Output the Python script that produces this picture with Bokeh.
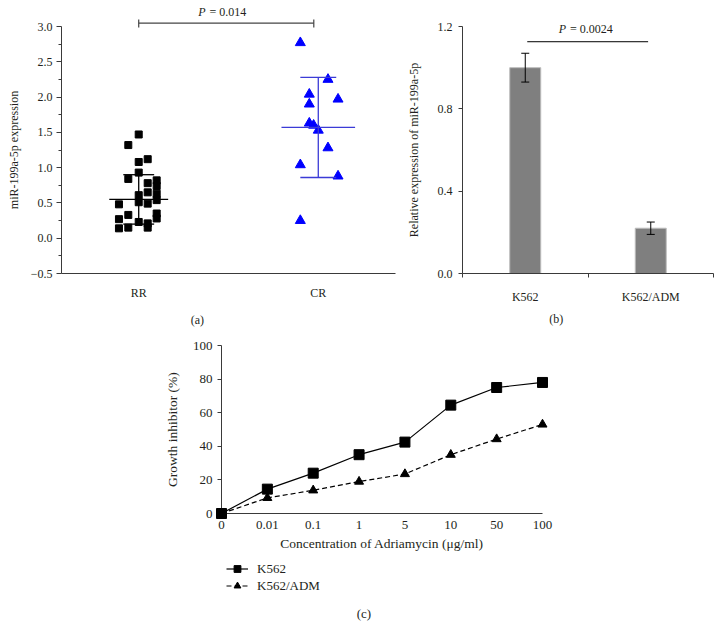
from bokeh.plotting import figure
from bokeh.layouts import column, row
from bokeh.models import (Range1d, FixedTicker, PrintfTickFormatter, Whisker, TeeHead,
                          ColumnDataSource, Legend, LegendItem)
from bokeh.embed import file_html
from bokeh.resources import INLINE
from bokeh.core.properties import value

FONT = "Liberation Serif"
TXT = "#231f20"
AX = "#3a3a3a"

# ---------------- data: panel (a) ----------------
groups = ["RR", "CR"]
rr_values = [0.48, 0.27, 0.14,
             1.32, 0.84, 0.33, 0.15,
             1.47, 1.08, 0.93, 0.61, 0.51, 0.23,
             1.12, 0.78, 0.65, 0.49, 0.21, 0.15,
             0.82, 0.74, 0.63, 0.54, 0.35, 0.28]
rr_jitter = [-0.11, -0.11, -0.11,
             -0.058, -0.058, -0.058, -0.058,
             0.0, 0.0, 0.0, 0.0, 0.0, 0.0,
             0.05, 0.05, 0.05, 0.05, 0.05, 0.05,
             0.1, 0.1, 0.1, 0.1, 0.1, 0.1]
cr_values = [2.77, 2.25, 2.04, 1.97, 1.90, 1.63, 1.60, 1.53, 1.28, 1.04, 0.88, 0.25]
cr_jitter = [-0.10, 0.054, -0.05, 0.11, -0.05, -0.05, -0.026, 0.0, 0.054, -0.10, 0.11, -0.10]
group_mean = [0.55, 1.57]
group_sd = [0.35, 0.71]
a_yticks = [-0.5, 0.0, 0.5, 1.0, 1.5, 2.0, 2.5, 3.0]
a_yminor = [-0.25, 0.25, 0.75, 1.25, 1.75, 2.25, 2.75]
p_a = "0.014"

# ---------------- data: panel (b) ----------------
cells = ["K562", "K562/ADM"]
rel_expr = [1.00, 0.22]
rel_err = [0.07, 0.03]
b_yticks = [0.0, 0.4, 0.8, 1.2]
p_b = "0.0024"

# ---------------- data: panel (c) ----------------
conc_labels = ["0", "0.01", "0.1", "1", "5", "10", "50", "100"]
series_names = ["K562", "K562/ADM"]
k562_inh = [0, 14.5, 24, 35, 42.5, 64.5, 75, 78]
adm_inh = [0, 9.3, 13.8, 19, 23.5, 35, 44.3, 53]
c_yticks = [0, 20, 40, 60, 80, 100]


def style(p, tick_size="12px", label_size="12px"):
    p.xgrid.visible = False
    p.ygrid.visible = False
    p.outline_line_color = None
    p.background_fill_color = "white"
    p.border_fill_color = "white"
    for ax in p.axis:
        ax.axis_line_color = AX
        ax.major_tick_line_color = AX
        ax.minor_tick_line_color = AX
        ax.major_tick_in = 0
        ax.minor_tick_in = 0
        ax.major_label_text_font = FONT
        ax.major_label_text_font_size = tick_size
        ax.major_label_text_color = TXT
        ax.axis_label_text_font = FONT
        ax.axis_label_text_font_size = label_size
        ax.axis_label_text_font_style = "normal"
        ax.axis_label_text_color = TXT


def panel_label(p, txt, x, y, size="12px"):
    p.text(x=[x], y=[y], text=[txt], text_font=value(FONT), text_font_size=size,
           text_color=TXT, text_align="center", text_baseline="middle", level="overlay")


# ================= panel (a) =================
pa = figure(width=403, height=330, output_backend="svg", toolbar_location=None,
            x_range=Range1d(-0.43, 1.43), y_range=Range1d(-0.5, 3.0),
            min_border_left=61, min_border_right=8, min_border_top=26, min_border_bottom=57)
style(pa)
pa.xaxis.ticker = FixedTicker(ticks=[0, 1])
pa.xaxis.major_label_overrides = {0: groups[0], 1: groups[1]}
pa.xaxis.major_tick_out = 0
pa.xaxis.minor_tick_out = 0
pa.xaxis.major_label_standoff = 12
pa.yaxis.ticker = FixedTicker(ticks=a_yticks, minor_ticks=a_yminor)
pa.yaxis.formatter = PrintfTickFormatter(format="%.1f")
pa.yaxis.major_label_overrides = {-0.5: "\u22120.5"}
pa.yaxis.major_tick_out = 5
pa.yaxis.minor_tick_out = 3
pa.yaxis.major_label_standoff = 4
pa.yaxis.axis_label = "miR-199a-5p expression"
pa.yaxis.axis_label_standoff = 7

rr_x = [0 + j for j in rr_jitter]
cr_x = [1 + j for j in cr_jitter]
pa.scatter(rr_x, rr_values, marker="square", size=7, color="black", level="overlay")
pa.scatter(cr_x, cr_values, marker="triangle", size=10, color="#0000ff", level="overlay")

line_cols = ["black", "#3b3bd6"]
mean_half = [0.164, 0.205]
cap_half = [0.086, 0.10]
for gi in range(2):
    m, s = group_mean[gi], group_sd[gi]
    pa.segment(x0=[gi - mean_half[gi], gi - cap_half[gi], gi - cap_half[gi], gi],
               y0=[m, m + s, m - s, m - s],
               x1=[gi + mean_half[gi], gi + cap_half[gi], gi + cap_half[gi], gi],
               y1=[m, m + s, m - s, m + s],
               line_color=line_cols[gi], line_width=1.3, level="overlay")

# significance bracket
pa.segment(x0=[0, 0, 0.975], y0=[3.047, 2.986, 2.986], x1=[0.975, 0, 0.975], y1=[3.047, 3.099, 3.099],
           line_color="#444444", line_width=1.2, level="overlay")
pa.text(x=[0.472], y=[3.205], text=["P"], text_font=value(FONT), text_font_size="12px",
        text_font_style="italic", text_color=TXT, text_align="right", text_baseline="middle",
        x_offset=-18, level="overlay")
pa.text(x=[0.472], y=[3.205], text=["= " + p_a], text_font=value(FONT), text_font_size="12px",
        text_color=TXT, text_align="left", text_baseline="middle", x_offset=-14, level="overlay")
panel_label(pa, "(a)", 0.327, -1.152)

# ================= panel (b) =================
pb = figure(width=317, height=330, output_backend="svg", toolbar_location=None,
            x_range=Range1d(0, 2), y_range=Range1d(0, 1.2),
            min_border_left=53, min_border_right=7, min_border_top=26, min_border_bottom=56)
style(pb)
bx = [i + 0.5 for i in range(len(cells))]
pb.xaxis.ticker = FixedTicker(ticks=bx, minor_ticks=[0, 1, 2])
pb.xaxis.major_label_overrides = {bx[i]: cells[i] for i in range(len(cells))}
pb.xaxis.major_tick_out = 0
pb.xaxis.minor_tick_out = 4
pb.xaxis.major_label_standoff = 12
pb.yaxis.ticker = FixedTicker(ticks=b_yticks)
pb.yaxis.formatter = PrintfTickFormatter(format="%.1f")
pb.yaxis.major_tick_out = 4
pb.yaxis.minor_tick_out = 0
pb.yaxis.major_label_standoff = 6
pb.yaxis.axis_label = "Relative expression of miR-199a-5p"
pb.yaxis.axis_label_standoff = 14

pb.vbar(x=bx, top=rel_expr, width=0.247, fill_color="#7f7f7f", line_color="#bdbdbd", line_width=1)
wsrc = ColumnDataSource(dict(x=bx, upper=[v + e for v, e in zip(rel_expr, rel_err)],
                             lower=[v - e for v, e in zip(rel_expr, rel_err)]))
pb.add_layout(Whisker(base="x", upper="upper", lower="lower", source=wsrc, line_color="black",
                      line_width=1, level="overlay",
                      upper_head=TeeHead(size=8, line_color="black", line_width=1),
                      lower_head=TeeHead(size=8, line_color="black", line_width=1)))
pb.segment(x0=[0.516], y0=[1.126], x1=[1.479], y1=[1.126], line_color="black", line_width=1,
           level="overlay")
pb.text(x=[1.0], y=[1.189], text=["P"], text_font=value(FONT), text_font_size="12px",
        text_font_style="italic", text_color=TXT, text_align="right", text_baseline="middle",
        x_offset=-22, level="overlay")
pb.text(x=[1.0], y=[1.189], text=["= " + p_b], text_font=value(FONT), text_font_size="12px",
        text_color=TXT, text_align="left", text_baseline="middle", x_offset=-18, level="overlay")
panel_label(pb, "(b)", 0.747, -0.2225)

# ================= panel (c) =================
pc = figure(width=720, height=225, output_backend="svg", toolbar_location=None,
            x_range=Range1d(0, 7), y_range=Range1d(0, 100),
            min_border_left=221, min_border_right=178, min_border_top=15, min_border_bottom=42)
style(pc, tick_size="13px", label_size="13.5px")
cx = list(range(len(conc_labels)))
pc.xaxis.ticker = FixedTicker(ticks=cx)
pc.xaxis.major_label_overrides = {i: conc_labels[i] for i in cx}
pc.xaxis.major_tick_out = 0
pc.xaxis.minor_tick_out = 0
pc.xaxis.major_label_standoff = 7
pc.xaxis.axis_label = "Concentration of Adriamycin (\u03bcg/ml)"
pc.xaxis.axis_label_standoff = 4
pc.yaxis.ticker = FixedTicker(ticks=c_yticks)
pc.yaxis.major_tick_out = 4
pc.yaxis.minor_tick_out = 0
pc.yaxis.major_label_standoff = 5
pc.yaxis.axis_label = "Growth inhibitor (%)"
pc.yaxis.axis_label_standoff = 10

line_styles = [dict(line_color="black", line_width=1.2),
               dict(line_color="black", line_width=1.2, line_dash="5 3")]
marker_styles = [dict(marker="square", size=10, color="black"),
                 dict(marker="triangle", size=9, color="black")]
for vals, ls, ms in zip([k562_inh, adm_inh], line_styles, marker_styles):
    pc.line(cx, vals, level="overlay", **ls)
    pc.scatter(cx, vals, level="overlay", **ms)

# ---- legend strip under panel (c) ----
pl = figure(width=720, height=80, output_backend="svg", toolbar_location=None,
            x_range=Range1d(0, 327), y_range=Range1d(0, 80),
            x_axis_location=None, y_axis_location=None,
            min_border_left=215, min_border_right=178, min_border_top=0, min_border_bottom=0)
pl.xgrid.visible = False
pl.ygrid.visible = False
pl.outline_line_color = None
items = []
for name, ls, ms in zip(series_names, line_styles, marker_styles):
    # proxy renderers for the legend keys (their points lie outside the visible range)
    r_line = pl.line(x=[-50, -40], y=[-50, -50], **ls)
    r_mark = pl.scatter(x=[-45], y=[-50], **ms)
    items.append(LegendItem(label=name, renderers=[r_line, r_mark]))
leg = Legend(items=items, location="top_left", orientation="vertical",
             background_fill_alpha=0, border_line_color=None, padding=0, margin=5, spacing=0,
             glyph_width=22, glyph_height=17, label_height=17, label_standoff=9,
             label_text_font=FONT, label_text_font_size="13px", label_text_color=TXT)
pl.add_layout(leg)
panel_label(pl, "(c)", 145, 22, size="13px")

layout = column(row(pa, pb), pc, pl)
open("out.html", "w").write(file_html(layout, INLINE))
